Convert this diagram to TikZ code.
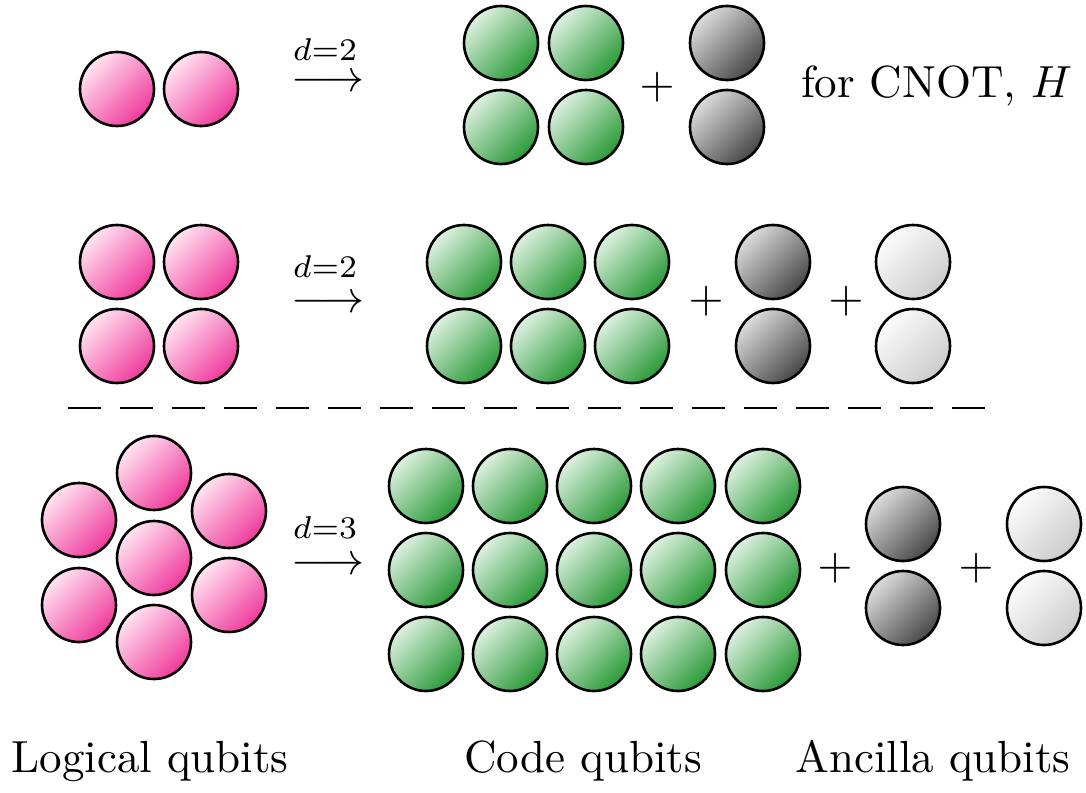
\documentclass[tikz,border=0pt]{standalone}
\usepackage{graphicx}
\definecolor{pinkL}{HTML}{FFE4F2}
\definecolor{pinkD}{HTML}{F03A9C}
\definecolor{greenL}{HTML}{DDF1E0}
\definecolor{greenD}{HTML}{2A9A38}
\definecolor{grayL}{HTML}{DCDCDC}
\definecolor{grayD}{HTML}{484848}
\definecolor{lgrayL}{HTML}{FCFCFC}
\definecolor{lgrayD}{HTML}{CCCCCC}
\newcommand{\bigtext}[1]{\scalebox{4.5}{#1}}
\begin{document}
\begin{tikzpicture}[x=1pt,y=-1pt,
  q/.style={circle,draw=black,line width=2.6pt,minimum size=74pt,inner sep=0pt},
  qpink/.style={q,top color=pinkL,bottom color=pinkD,shading angle=45},
  qgreen/.style={q,top color=greenL,bottom color=greenD,shading angle=45},
  qgray/.style={q,top color=grayL,bottom color=grayD,shading angle=45},
  qlight/.style={q,top color=lgrayL,bottom color=lgrayD,shading angle=45},
  txt/.style={inner sep=0pt,outer sep=0pt},
  sep/.style={line width=2.6pt,dash pattern=on 33pt off 19pt}]
\useasboundingbox (0,0) rectangle (1086,792);

% ---------- Row 1 ----------
\node[qpink] (p11) at (117,89) {};
\node[qpink] (p12) at (201,89) {};
\node[txt,anchor=base] (d1) at (325,60) {\bigtext{$\scriptstyle d{=}2$}};
\node[txt,anchor=base] (a1) at (328,91) {\bigtext{$\longrightarrow$}};
\node[qgreen] (g111) at (501,43) {};
\node[qgreen] (g112) at (586,43) {};
\node[qgreen] (g121) at (501,127) {};
\node[qgreen] (g122) at (586,127) {};
\node[txt] (plus1) at (657,87) {\bigtext{$+$}};
\node[qgray] (k11) at (727,43) {};
\node[qgray] (k12) at (727,127) {};
\node[txt,anchor=base west] (cnot) at (801,97) {\bigtext{for CNOT, $H$}};

% ---------- Row 2 ----------
\node[qpink] (p21) at (117,262) {};
\node[qpink] (p22) at (201,262) {};
\node[qpink] (p23) at (117,346) {};
\node[qpink] (p24) at (201,346) {};
\node[txt,anchor=base] (d2) at (325,277) {\bigtext{$\scriptstyle d{=}2$}};
\node[txt,anchor=base] (a2) at (328,312) {\bigtext{$\longrightarrow$}};
\foreach \x [count=\i] in {464,548,632}{
  \node[qgreen] (g21\i) at (\x,262) {};
  \node[qgreen] (g22\i) at (\x,346) {};
}
\node[txt] (plus2a) at (706,301) {\bigtext{$+$}};
\node[qgray] (k21) at (773,262) {};
\node[qgray] (k22) at (773,346) {};
\node[txt] (plus2b) at (846,301) {\bigtext{$+$}};
\node[qlight] (w21) at (913,262) {};
\node[qlight] (w22) at (913,346) {};

% ---------- separator ----------
\coordinate (sepL) at (68,408);
\coordinate (sepR) at (991,408);
\draw[sep] (sepL) -- (sepR);

% ---------- Row 3 ----------
\node[qpink] (p3c) at (154,558) {};
\node[qpink] (p3t) at (154,473) {};
\node[qpink] (p3ul) at (79,520) {};
\node[qpink] (p3ur) at (229,511) {};
\node[qpink] (p3ll) at (79,605) {};
\node[qpink] (p3lr) at (229,595) {};
\node[qpink] (p3b) at (154,642) {};
\node[txt,anchor=base] (d3) at (325,538) {\bigtext{$\scriptstyle d{=}3$}};
\node[txt,anchor=base] (a3) at (328,574) {\bigtext{$\longrightarrow$}};
\foreach \x [count=\i] in {426,510,594,678,763}{
  \node[qgreen] (g31\i) at (\x,486) {};
  \node[qgreen] (g32\i) at (\x,570) {};
  \node[qgreen] (g33\i) at (\x,654) {};
}
\node[txt] (plus3a) at (835,568) {\bigtext{$+$}};
\node[qgray] (k31) at (903,524) {};
\node[qgray] (k32) at (903,608) {};
\node[txt] (plus3b) at (976,568) {\bigtext{$+$}};
\node[qlight] (w31) at (1044,524) {};
\node[qlight] (w32) at (1044,608) {};

% ---------- labels ----------
\node[txt,anchor=base] (lab1) at (150,772) {\bigtext{Logical qubits}};
\node[txt,anchor=base] (lab2) at (583,772) {\bigtext{Code qubits}};
\node[txt,anchor=base] (lab3) at (933,772) {\bigtext{Ancilla qubits}};
\end{tikzpicture}
\end{document}
